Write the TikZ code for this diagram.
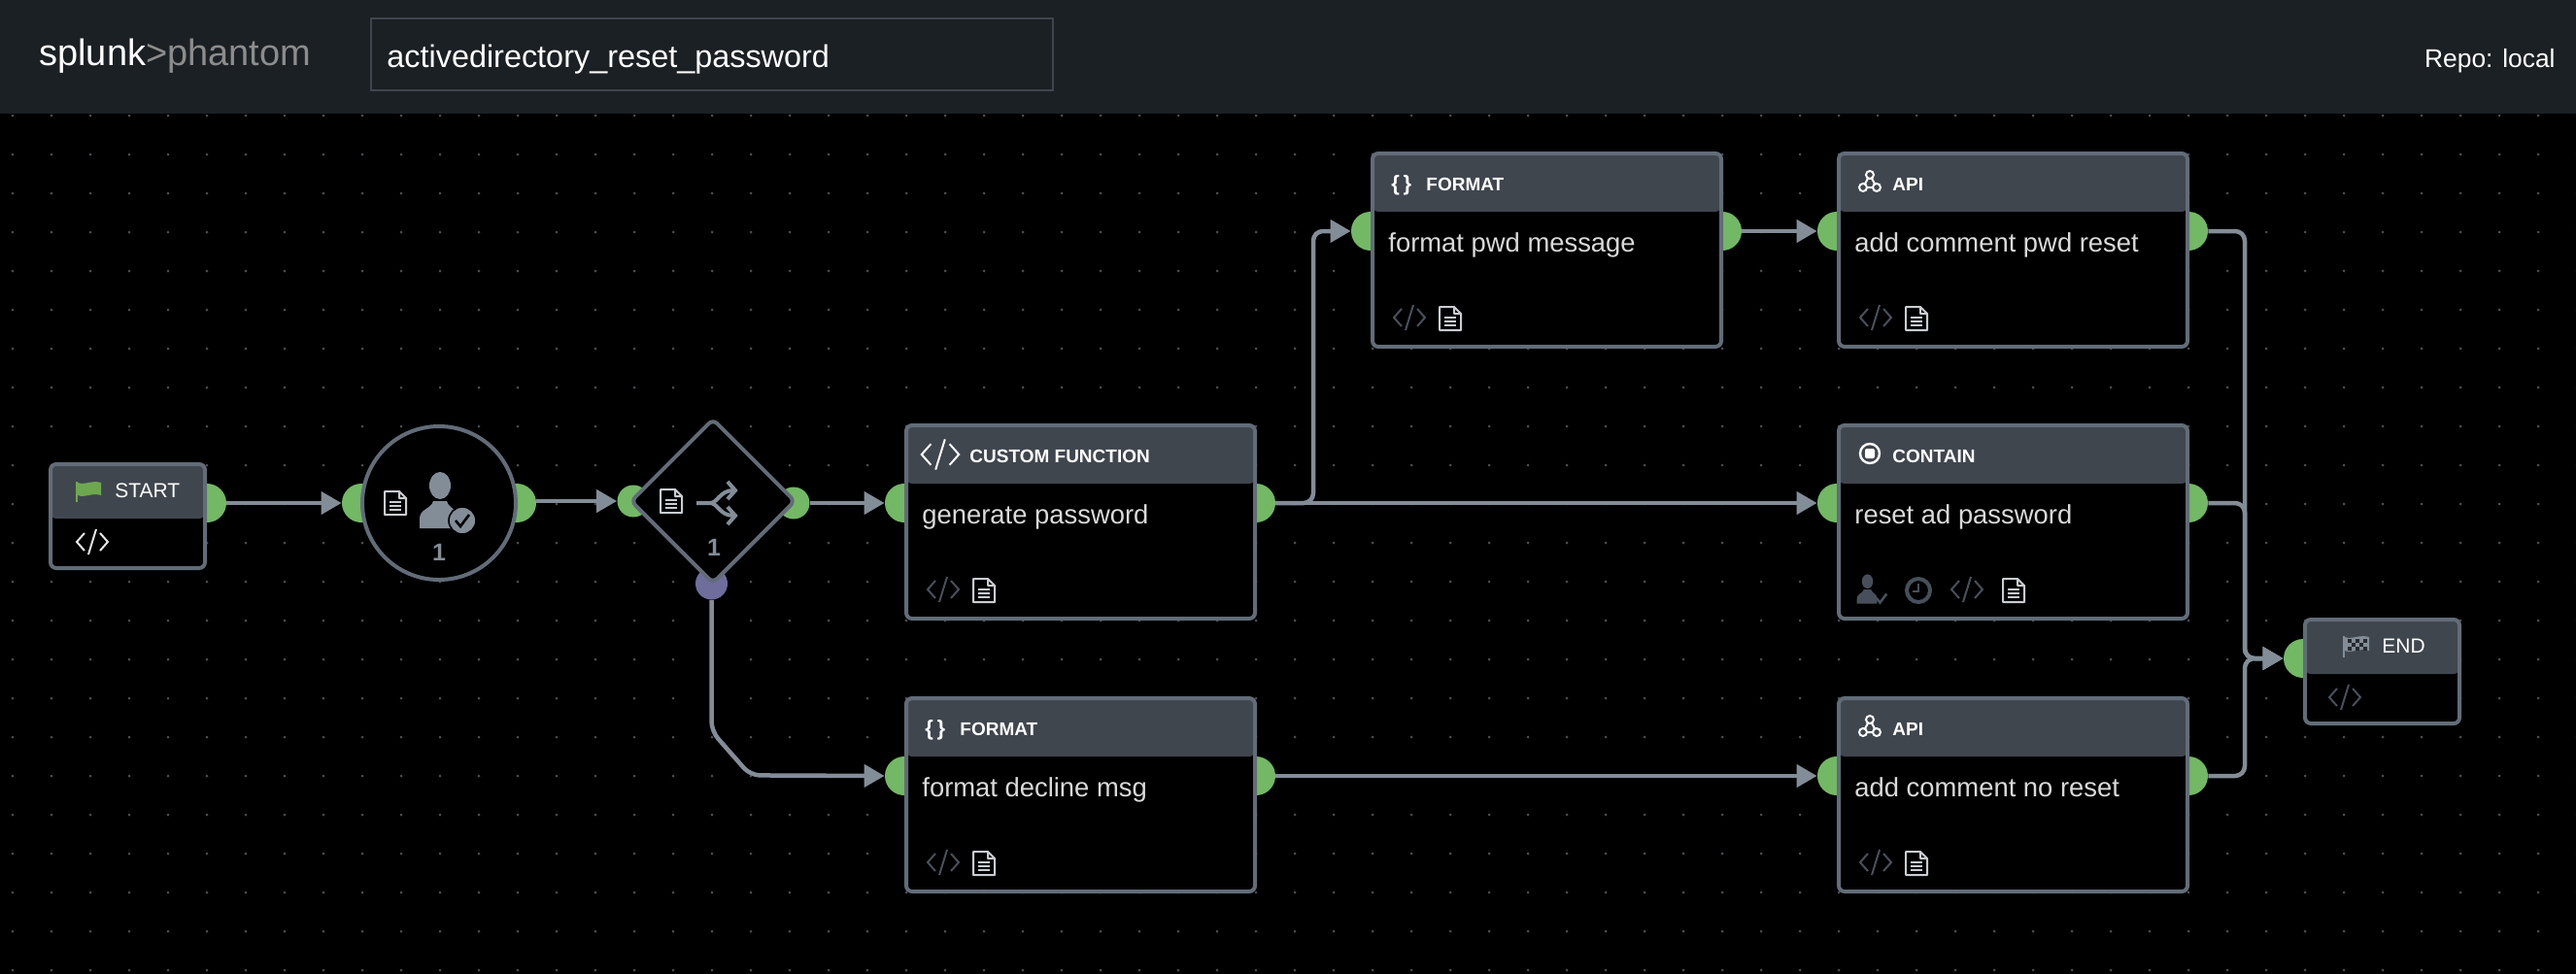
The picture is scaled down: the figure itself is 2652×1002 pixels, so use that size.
\documentclass[tikz,border=0pt]{standalone}
\usepackage{fontspec}
\setmainfont{Liberation Sans}
\usetikzlibrary{arrows.meta}
\usetikzlibrary{shapes.geometric}

\definecolor{canvas}{HTML}{000000}
\definecolor{topbar}{HTML}{1B2024}
\definecolor{topline}{HTML}{3F454D}
\definecolor{griddot}{HTML}{4A4F55}
\definecolor{edgeline}{HTML}{626C78}
\definecolor{headfill}{HTML}{40464E}
\definecolor{wire}{HTML}{838D97}
\definecolor{portgreen}{HTML}{73B865}
\definecolor{portblue}{HTML}{6F6D9C}
\definecolor{dimicon}{HTML}{47505A}
\definecolor{paleicon}{HTML}{C9CDD1}
\definecolor{flaggreen}{HTML}{6DA84E}

\tikzset{
  port/.style={circle,fill=portgreen,inner sep=0,minimum size=20pt},
  smallport/.style={circle,fill=portgreen,inner sep=0,minimum size=16.5pt},
  basebox/.style={draw=edgeline,line width=2pt,fill=canvas,rounded corners=3pt,inner sep=0,anchor=north west,
    path picture={\fill[headfill] (path picture bounding box.north west) rectangle
      ([yshift=-#1]path picture bounding box.north east);}},
  opbox/.style={basebox=30pt,minimum width=179.5pt,minimum height=99.5pt},
  flagbox/.style={basebox=28pt,minimum width=79.5pt,minimum height=53.5pt},
  link/.style={draw=wire,line width=2.25pt,rounded corners=5pt,-{Triangle[length=10.5pt,width=11.5pt]}},
  plaintext/.style={inner sep=0,anchor=base west,text=white},
  headtext/.style={plaintext,font=\bfseries\fontsize{9.5}{11}\selectfont},
  flagtext/.style={plaintext,font=\fontsize{10.5}{12}\selectfont},
  bodytext/.style={plaintext,text=white!85!black,font=\fontsize{13.7}{16}\selectfont},
  counttext/.style={inner sep=0,anchor=base,text=wire,font=\bfseries\fontsize{12.5}{14}\selectfont},
  code icon/.pic={
    \draw[line width=1pt,line join=miter] (-8,-9) -- (-16,0) -- (-8,9) (8,-9) -- (16,0) -- (8,9) (4,-13) -- (-4,13);
  },
  doc icon/.pic={
    \draw[line width=1pt,line join=round] (-11,-12) -- (4,-12) -- (11,-5) -- (11,12) -- (-11,12) -- cycle
      (4,-12) -- (4,-5) -- (11,-5);
    \draw[line width=.9pt] (-6,-1) -- (6,-1) (-6,3) -- (6,3) (-6,7) -- (6,7);
  },
  user icon/.pic={
    \fill (1,-16) ellipse [x radius=11,y radius=14];
    \fill (-20,28) -- (-20,18) .. controls (-20,8) and (-8,8) .. (-6,0) -- (8,0)
      .. controls (10,8) and (20,8) .. (20,18) -- (20,28) -- cycle;
  },
  check icon/.pic={
    \draw[line width=1.3pt] (-7,0) -- (-2,6) -- (7,-6);
  },
  clock icon/.pic={
    \draw[line width=2pt] (0,0) circle [radius=12];
    \draw[line width=1pt] (0,-7) -- (0,1) -- (-6,1);
  },
  branch icon/.pic={
    \draw[line width=2pt] (-20,0) -- (-6,0) .. controls (2,0) and (4,-13) .. (18,-13)
      (-6,0) .. controls (2,0) and (4,13) .. (18,13)
      (12,-22) -- (20,-13) -- (12,-4) (12,4) -- (20,13) -- (12,22);
  },
  contain icon/.pic={
    \draw[line width=1.2pt] (0,0) circle [radius=10];
    \fill[rounded corners=1pt] (-5,-5) rectangle (5,5);
  },
  api icon/.pic={
    \draw[line width=1pt] (0,-7) -- (-7,6) -- (7,6) -- cycle;
    \draw[line width=1pt,fill=headfill] (0,-7) circle [radius=4] (-7,6) circle [radius=4] (7,6) circle [radius=4];
  },
  start flag/.pic={
    \draw[flaggreen,line width=.7pt] (0,0) -- (0,21);
    \fill[flaggreen] (1,1) .. controls (8,4) and (16,-2) .. (25,1) -- (25,14) .. controls (16,11) and (8,17) .. (1,14) -- cycle;
  },
  end flag/.pic={
    \draw[wire,line width=.7pt] (0,0) -- (0,22);
    \fill[wire] (1,1) .. controls (8,4) and (16,-2) .. (26,1) -- (26,15) .. controls (16,12) and (8,18) .. (1,15) -- cycle;
    \foreach \cx/\cy in {4/3,12/3,20/3,8/7,16/7,4/11,12/11,20/11}
      \fill[headfill!60!canvas] (\cx,\cy) rectangle ++(4,4);
  },
  x=0.5pt,y=-0.5pt
}

% name, left, top, title x, title, label
\newcommand{\opnode}[6]{
  \node[port] (#1-in) at (#2,#3+82) {};
  \node[port] (#1-out) at (#2+362,#3+82) {};
  \node[opbox] (#1) at (#2,#3) {};
  \node[headtext] (#1-type) at ([shift={(#4,40)}]#1.north west) {#5};
  \node[bodytext] (#1-name) at ([shift={(18,103)}]#1.north west) {#6};
}
% name, code icon x, doc icon x
\newcommand{\footicons}[3]{
  \pic[color=dimicon] at ([shift={(#2,171)}]#1.north west) {code icon};
  \pic[color=paleicon] at ([shift={(#3,172)}]#1.north west) {doc icon};
}

\begin{document}
\begin{tikzpicture}
  \useasboundingbox (0,0) rectangle (2652,1002);
  \fill[canvas] (-5,-5) rectangle (2657,1007);
  \foreach \gx in {13,53,...,2653}
    \foreach \gy in {119,159,...,999}
      \fill[griddot] (\gx,\gy) circle [radius=1.5];

  % top bar
  \fill[topbar] (-5,-5) rectangle (2657,117);
  \node[plaintext,font=\fontsize{19}{20}\selectfont] (logo) at (40,67)
    {splunk\textcolor{white!55!black}{>phantom}};
  \node[draw=topline,line width=1pt,minimum width=351pt,minimum height=37pt,inner sep=0,anchor=north west] (titlebox) at (381,18) {};
  \node[plaintext,font=\fontsize{16.2}{19}\selectfont] (title) at (398,69) {activedirectory\_reset\_password};
  \node[plaintext,anchor=base east,font=\fontsize{13.2}{16}\selectfont] (repo) at (2631,69) {Repo: local};

  % start
  \node[port] (start-out) at (213,518) {};
  \node[flagbox] (start) at (50,476) {};
  \pic at (79,496) {start flag};
  \node[flagtext] (start-type) at (118,512) {START};
  \pic[color=white!90!black] at (95,558) {code icon};

  % prompt
  \node[port] (prompt-in) at (372,518) {};
  \node[port] (prompt-out) at (532,518) {};
  \node[circle,draw=edgeline,line width=2pt,fill=canvas,minimum size=79pt,inner sep=0] (prompt) at (452,518) {};
  \pic[color=paleicon] at (407,518) {doc icon};
  \pic[color=wire] at (452,516) {user icon};
  \node[circle,fill=wire,draw=canvas,line width=.8pt,minimum size=14pt,inner sep=0] (prompt-badge) at (476,536) {};
  \pic[color=canvas] at (476,536) {check icon};
  \node[counttext] (prompt-count) at (452,577) {1};

  % decision
  \node[smallport] (decide-in) at (652,516) {};
  \node[smallport] (decide-out) at (817,518) {};
  \node[smallport,fill=portblue] (decide-no) at (732.5,601) {};
  \node[diamond,draw=edgeline,line width=2pt,fill=canvas,rounded corners=3pt,minimum size=85pt,inner sep=0] (decide) at (734,516) {};
  \pic[color=paleicon] at (691,516) {doc icon};
  \pic[color=wire] at (737,518) {branch icon};
  \node[counttext] (decide-count) at (735,572) {1};

  % actions
  \opnode{genpwd}{931}{436}{67}{CUSTOM FUNCTION}{generate password}
  \pic[color=white,scale=1.2] at (968,468) {code icon};
  \footicons{genpwd}{40}{82}

  \opnode{fmtpwd}{1411}{156}{57}{FORMAT}{format pwd message}
  \node[plaintext,font=\bfseries\fontsize{11}{13}\selectfont] (fmtpwd-brace) at (1432,196) {\{\,\}};
  \footicons{fmtpwd}{40}{82}

  \opnode{apipwd}{1891}{156}{57}{API}{add comment pwd reset}
  \pic[color=white] at (1925,187) {api icon};
  \footicons{apipwd}{40}{82}

  \opnode{resetad}{1891}{436}{57}{CONTAIN}{reset ad password}
  \pic[color=white] at (1925,467) {contain icon};
  \pic[color=dimicon,scale=.52] at (1922,607) {user icon};
  \pic[color=dimicon,scale=.75] at (1937,616) {check icon};
  \pic[color=dimicon] at (1975,608) {clock icon};
  \footicons{resetad}{134}{182}

  \opnode{fmtno}{931}{717}{57}{FORMAT}{format decline msg}
  \node[plaintext,font=\bfseries\fontsize{11}{13}\selectfont] (fmtno-brace) at (952,757) {\{\,\}};
  \footicons{fmtno}{40}{82}

  \opnode{apino}{1891}{717}{57}{API}{add comment no reset}
  \pic[color=white] at (1925,748) {api icon};
  \footicons{apino}{40}{82}

  % end
  \node[port] (end-in) at (2371,678) {};
  \node[flagbox] (end) at (2371,636) {};
  \pic at (2413,655) {end flag};
  \node[flagtext] (end-type) at (2452,672) {END};
  \pic[color=dimicon] at (2414,718) {code icon};

  % connectors
  \coordinate (fork) at (1352,518);
  \coordinate (merge) at (2311,678);
  \draw[link] (start-out.east) -- (prompt-in.west);
  \draw[link] (prompt-out.east |- decide-in) -- (decide-in.west);
  \draw[link] (decide-out.east) -- (genpwd-in.west);
  \draw[link] (decide-no.south) -- ++(0,135) -- ++(40,45.5) -- (fmtno-in.west);
  \draw[link] (genpwd-out.east) -- (fork) |- (fmtpwd-in.west);
  \draw[link] (genpwd-out.east) -- (resetad-in.west);
  \draw[link] (fmtpwd-out.east) -- (apipwd-in.west);
  \draw[link] (fmtno-out.east) -- (apino-in.west);
  \draw[link] (apipwd-out.east) -| (merge) -- (end-in.west);
  \draw[link] (resetad-out.east) -| (merge) -- (end-in.west);
  \draw[link] (apino-out.east) -| (merge) -- (end-in.west);
\end{tikzpicture}
\end{document}
